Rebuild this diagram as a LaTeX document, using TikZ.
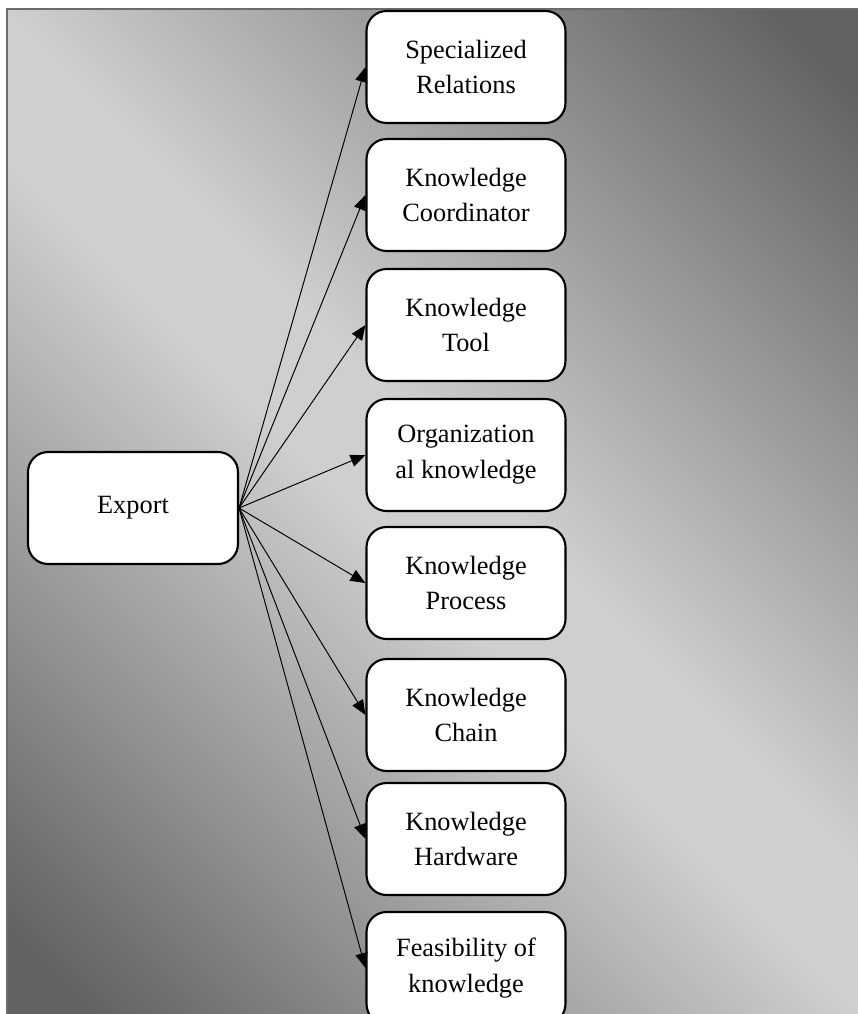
\documentclass[tikz,border=0pt]{standalone}
\usepackage{fontspec}
\setmainfont{Liberation Serif}
\usetikzlibrary{arrows.meta}
\definecolor{darkback}{gray}{0.39}
\definecolor{lightback}{gray}{0.81}
\definecolor{framegray}{gray}{0.42}
\pgfdeclarehorizontalshading{backshade}{100bp}{color(0bp)=(darkback); color(18bp)=(darkback); color(47bp)=(lightback); color(53bp)=(lightback); color(82bp)=(darkback); color(100bp)=(darkback)}
\tikzset{
topic/.style={draw, line width=1.2pt, fill=white, rounded corners=0.4cm,
  minimum width=3.98cm, minimum height=2.24cm, align=center,
  font=\fontsize{15}{20.4}\selectfont},
link/.style={line width=0.55pt, -{Triangle[length=8.5pt,width=7pt]}}
}
\begin{document}
\begin{tikzpicture}[x=0.02cm, y=-0.02cm]
\useasboundingbox (0,0) rectangle (858,1014);
\clip (0,0) rectangle (858,1014);
\shade[shading=backshade, shading angle=45] (7,9) rectangle (858,1014);
\draw[framegray, line width=1.4pt] (7,1014) -- (7,9) -- (858,9);
\node[topic, minimum width=4.2cm] (export) at (133,508) {Export};
\node[topic] (relations) at (466,67) {Specialized\\Relations};
\node[topic] (coordinator) at (466,195) {Knowledge\\Coordinator};
\node[topic] (tool) at (466,325) {Knowledge\\Tool};
\node[topic] (organizational) at (466,455) {Organization\\al knowledge};
\node[topic] (process) at (466,583) {Knowledge\\Process};
\node[topic] (chain) at (466,715) {Knowledge\\Chain};
\node[topic] (hardware) at (466,839) {Knowledge\\Hardware};
\node[topic] (feasibility) at (466,968) {Feasibility of\\knowledge};
\foreach \t in {relations,coordinator,tool,organizational,process,chain,hardware,feasibility}
  \draw[link] (export.east) -- (\t.west);
\end{tikzpicture}
\end{document}
